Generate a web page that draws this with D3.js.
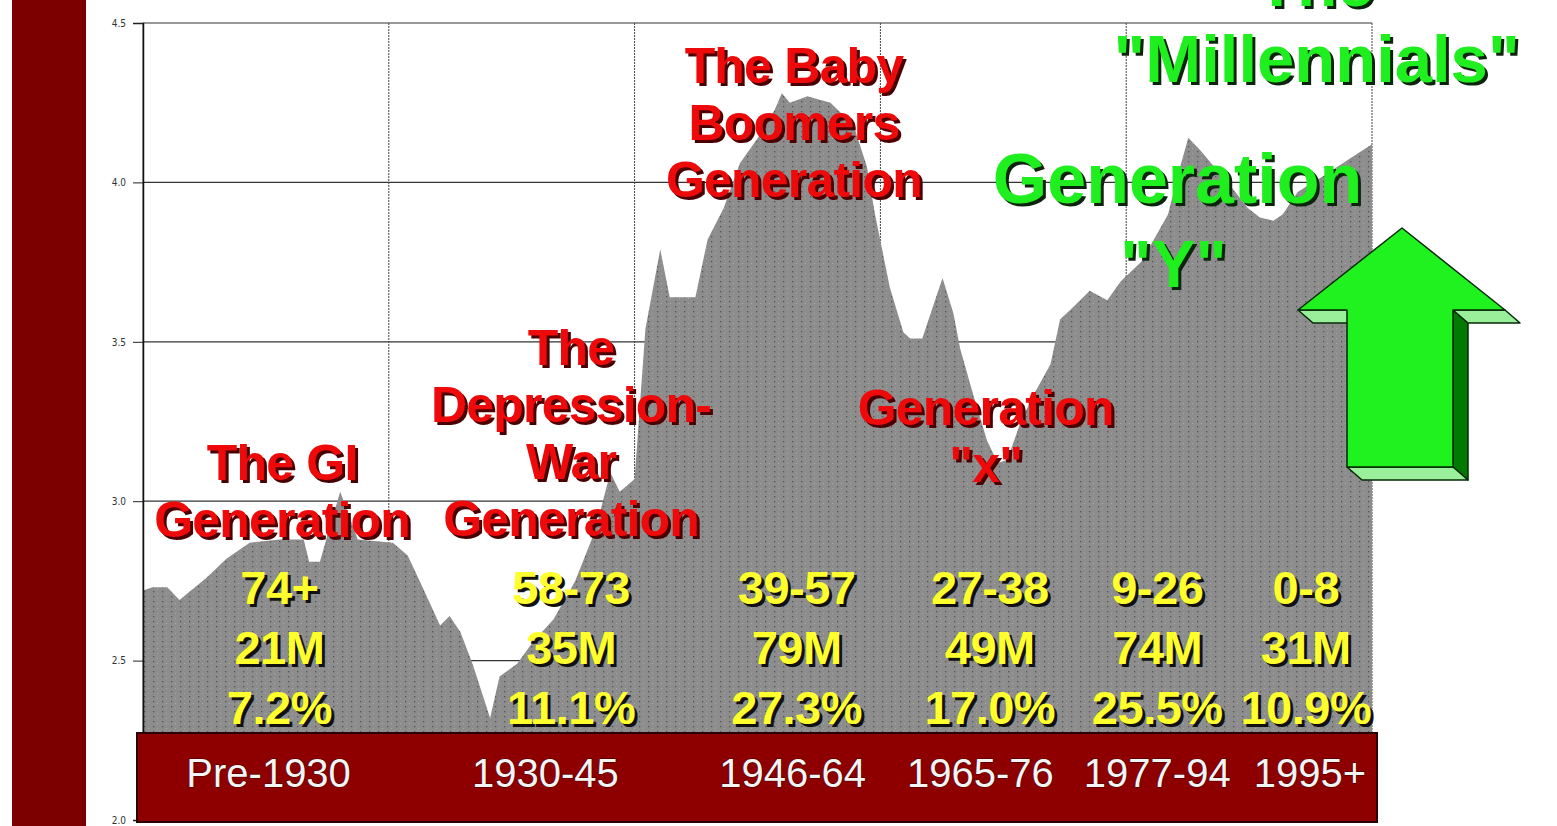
<!DOCTYPE html>
<html>
<head>
<meta charset="utf-8">
<script src="https://cdn.jsdelivr.net/npm/d3@7"></script>
<style>
  body { margin: 0; background: #fff; }
  svg { display: block; }
</style>
</head>
<body>
<svg></svg>
<script>
const width = 1557;
const height = 826;

// Births per year (millions)
const years = [1909.0, 1909.7, 1910.8, 1911.7, 1913.7, 1915.2, 1916.9, 1919.1, 1920.9, 1921.3,
    1922.1, 1922.5, 1923.6, 1924.9, 1927.5, 1928.6, 1929.7, 1931.0, 1931.7, 1932.5,
    1933.4, 1934.7, 1935.4, 1936.7, 1937.9, 1939.4, 1941.0, 1942.5, 1943.6, 1944.3,
    1945.4, 1946.2, 1947.3, 1948.0, 1949.9, 1950.8, 1952.0, 1953.2, 1954.7, 1955.8,
    1956.3, 1956.9, 1958.2, 1959.9, 1961.6, 1962.6, 1963.2, 1964.3, 1965.3, 1965.8,
    1966.7, 1968.2, 1969.0, 1969.5, 1970.5, 1971.5, 1972.3, 1973.0, 1974.0, 1974.9,
    1976.2, 1976.9, 1977.9, 1979.1, 1980.4, 1981.4, 1982.9, 1984.1, 1984.9, 1985.8,
    1986.4, 1987.3, 1988.3, 1989.5, 1990.8, 1991.7, 1992.7, 1993.4, 1994.5, 1996.4,
    1998.2, 2000.0];
const births = [2.72, 2.73, 2.73, 2.69, 2.76, 2.82, 2.87, 2.88, 2.88, 2.81,
    2.81, 2.87, 3.03, 2.88, 2.87, 2.83, 2.73, 2.61, 2.64, 2.59,
    2.49, 2.32, 2.45, 2.49, 2.56, 2.63, 2.75, 2.91, 3.09, 3.03,
    3.07, 3.54, 3.79, 3.64, 3.64, 3.82, 3.92, 4.06, 4.15, 4.23,
    4.28, 4.25, 4.27, 4.25, 4.18, 4.05, 3.90, 3.67, 3.53, 3.51,
    3.51, 3.70, 3.59, 3.48, 3.33, 3.19, 3.12, 3.13, 3.25, 3.33,
    3.43, 3.57, 3.61, 3.66, 3.63, 3.69, 3.75, 3.84, 3.90, 4.05,
    4.14, 4.10, 4.05, 3.99, 3.92, 3.89, 3.88, 3.90, 3.97, 4.02,
    4.07, 4.12];

const yTicks = [2.0, 2.5, 3.0, 3.5, 4.0, 4.5];

// generations
const eraLabels = ["Pre-1930", "1930-45", "1946-64", "1965-76", "1977-94", "1995+"];
const eraLabelYear = [1918.3, 1938.8, 1957.1, 1971.0, 1984.1, 1995.4];
const ages = ["74+", "58-73", "39-57", "27-38", "9-26", "0-8"];
const pops = ["21M", "35M", "79M", "49M", "74M", "31M"];
const shares = ["7.2%", "11.1%", "27.3%", "17.0%", "25.5%", "10.9%"];
const statYear = [1919.1, 1940.7, 1957.4, 1971.7, 1984.1, 1995.1];

const redTitles = [
    { year: 1919.3, lines: ["The GI", "Generation"], top: 480 },
    { year: 1940.7, lines: ["The", "Depression-", "War", "Generation"], top: 365 },
    { year: 1957.2, lines: ["The Baby", "Boomers", "Generation"], top: 83 },
    { year: 1971.4, lines: ["Generation", "\"x\""], top: 425 }
];

const svg = d3.select("svg")
    .attr("width", width)
    .attr("height", height);

const x = d3.scaleLinear().domain([1909, 2000]).range([143, 1372]);
const y = d3.scaleLinear().domain([2.0, 4.5]).range([820, 23]);

// dotted grey texture for the area
const defs = svg.append("defs");
const pat = defs.append("pattern")
    .attr("id", "grain")
    .attr("width", 9)
    .attr("height", 5)
    .attr("patternUnits", "userSpaceOnUse");
pat.append("rect").attr("width", 9).attr("height", 5).attr("fill", "#8d8d8d");
pat.append("rect").attr("x", 0).attr("y", 1).attr("width", 1.3).attr("height", 1.3).attr("fill", "#555");
pat.append("rect").attr("x", 4).attr("y", 3).attr("width", 1).attr("height", 1).attr("fill", "#aaa");

// left maroon strip
svg.append("rect")
    .attr("x", 12).attr("y", 0)
    .attr("width", 74).attr("height", height)
    .attr("fill", "#7d0000");

// grid
const grid = svg.append("g");
grid.selectAll(".hgrid")
    .data(yTicks)
    .enter().append("line")
    .attr("x1", x.range()[0]).attr("x2", x.range()[1])
    .attr("y1", d => y(d)).attr("y2", d => y(d))
    .style("stroke", "#333")
    .style("stroke-width", 1.2);

const [d0, d1] = x.domain();
const vGrid = d3.range(6).map(i => d0 + (d1 - d0) * i / 5);
grid.selectAll(".vgrid")
    .data(vGrid)
    .enter().append("line")
    .attr("x1", d => x(d)).attr("x2", d => x(d))
    .attr("y1", y(4.5)).attr("y2", y(2.0))
    .style("stroke", "#444")
    .style("stroke-width", 1)
    .style("stroke-dasharray", (d, i) => (i === 0 ? null : "2,1"));

// area of births
const series = years.map((yr, i) => ({ yr, v: births[i] }));
svg.append("path")
    .datum(series)
    .attr("d", d3.area()
        .x(d => x(d.yr))
        .y0(y(2.0))
        .y1(d => y(d.v)))
    .attr("fill", "url(#grain)");

// y axis
const yAxis = svg.append("g")
    .attr("transform", `translate(${x.range()[0]},0)`)
    .call(d3.axisLeft(y).tickValues(yTicks).tickFormat(d3.format(".1f")).tickSize(10).tickPadding(7));
yAxis.select(".domain").style("stroke", "#111").style("stroke-width", 1.5);
yAxis.selectAll(".tick line").style("stroke", "#222");
yAxis.selectAll("text")
    .style("font-family", "'Liberation Sans Narrow', 'DejaVu Sans Condensed', sans-serif")
    .style("font-size", "10px")
    .style("fill", "#333");

// maroon era band
svg.append("rect")
    .attr("x", 137).attr("y", 733)
    .attr("width", 1240).attr("height", 89)
    .attr("fill", "#8e0000")
    .style("stroke", "#2a0000")
    .style("stroke-width", 2);

svg.append("g").selectAll("text")
    .data(eraLabels)
    .enter().append("text")
    .attr("x", (d, i) => x(eraLabelYear[i]))
    .attr("y", 787)
    .attr("text-anchor", "middle")
    .style("font-family", "'Liberation Sans', Arial, sans-serif")
    .style("font-size", "40px")
    .style("fill", "#f4f4f4")
    .style("stroke", "#3a0000")
    .style("stroke-width", 1)
    .style("paint-order", "stroke")
    .text(d => d);

// text with a hard drop shadow
function shadowText(g, cx, cy, str, o) {
    [[o.shadow, o.off, o.off], [o.fill, 0, 0]].forEach(([c, dx, dy]) => {
        g.append("text")
            .attr("x", cx + dx)
            .attr("y", cy + dy)
            .attr("text-anchor", "middle")
            .style("font-family", "'Liberation Sans', Arial, sans-serif")
            .style("font-weight", "bold")
            .style("font-size", o.size + "px")
            .style("letter-spacing", (o.spacing || 0) + "px")
            .style("fill", c)
            .text(str);
    });
}

const ann = svg.append("g");

// red generation titles
redTitles.forEach(t => {
    t.lines.forEach((ln, j) => {
        shadowText(ann, x(t.year), t.top + j * 57, ln,
            { size: 50, fill: "#ee0a0a", shadow: "#4a0000", off: 3, spacing: -0.8 });
    });
});

// yellow stats
[ages, pops, shares].forEach((row, r) => {
    row.forEach((s, i) => {
        shadowText(ann, x(statYear[i]), 604 + r * 60, s,
            { size: 47, fill: "#ffff2e", shadow: "#111", off: 3, spacing: -0.5 });
    });
});

// green millennials text
const green = { fill: "#1fee1f", shadow: "#0b240b", off: 3, spacing: 0 };
shadowText(ann, x(1995.8), 6, "The", Object.assign({ size: 66 }, green));
shadowText(ann, x(1995.9), 82, "\"Millennials\"", Object.assign({ size: 67 }, green));
shadowText(ann, x(1985.6), 203, "Generation", Object.assign({ size: 70 }, green));
shadowText(ann, x(1985.3), 287, "\"Y\"", Object.assign({ size: 66 }, green));

// 3-D up arrow
const arrow = svg.append("g")
    .style("stroke", "#062806")
    .style("stroke-width", 1.5)
    .style("stroke-linejoin", "round");
const ar = { tip: [1402, 228], wingL: 1298, wingR: 1505, shaftL: 1347, shaftR: 1453, neck: 310, base: 467, ex: 15, ey: 13 };
const poly = pts => pts.map(p => p.join(",")).join(" ");
arrow.append("polygon")
    .attr("points", poly([[ar.shaftR, ar.neck], [ar.shaftR + ar.ex, ar.neck + ar.ey],
        [ar.shaftR + ar.ex, ar.base + ar.ey], [ar.shaftR, ar.base]]))
    .attr("fill", "#027a02");
arrow.append("polygon")
    .attr("points", poly([[ar.wingL, ar.neck], [ar.shaftL, ar.neck],
        [ar.shaftL + ar.ex, ar.neck + ar.ey], [ar.wingL + ar.ex, ar.neck + ar.ey]]))
    .attr("fill", "#9af09a");
arrow.append("polygon")
    .attr("points", poly([[ar.shaftR, ar.neck], [ar.wingR, ar.neck],
        [ar.wingR + ar.ex, ar.neck + ar.ey], [ar.shaftR + ar.ex, ar.neck + ar.ey]]))
    .attr("fill", "#9af09a");
arrow.append("polygon")
    .attr("points", poly([[ar.shaftL, ar.base], [ar.shaftR, ar.base],
        [ar.shaftR + ar.ex, ar.base + ar.ey], [ar.shaftL + ar.ex, ar.base + ar.ey]]))
    .attr("fill", "#9af09a");
arrow.append("polygon")
    .attr("points", poly([ar.tip, [ar.wingR, ar.neck], [ar.shaftR, ar.neck], [ar.shaftR, ar.base],
        [ar.shaftL, ar.base], [ar.shaftL, ar.neck], [ar.wingL, ar.neck]]))
    .attr("fill", "#1ff21f");
</script>
</body>
</html>
